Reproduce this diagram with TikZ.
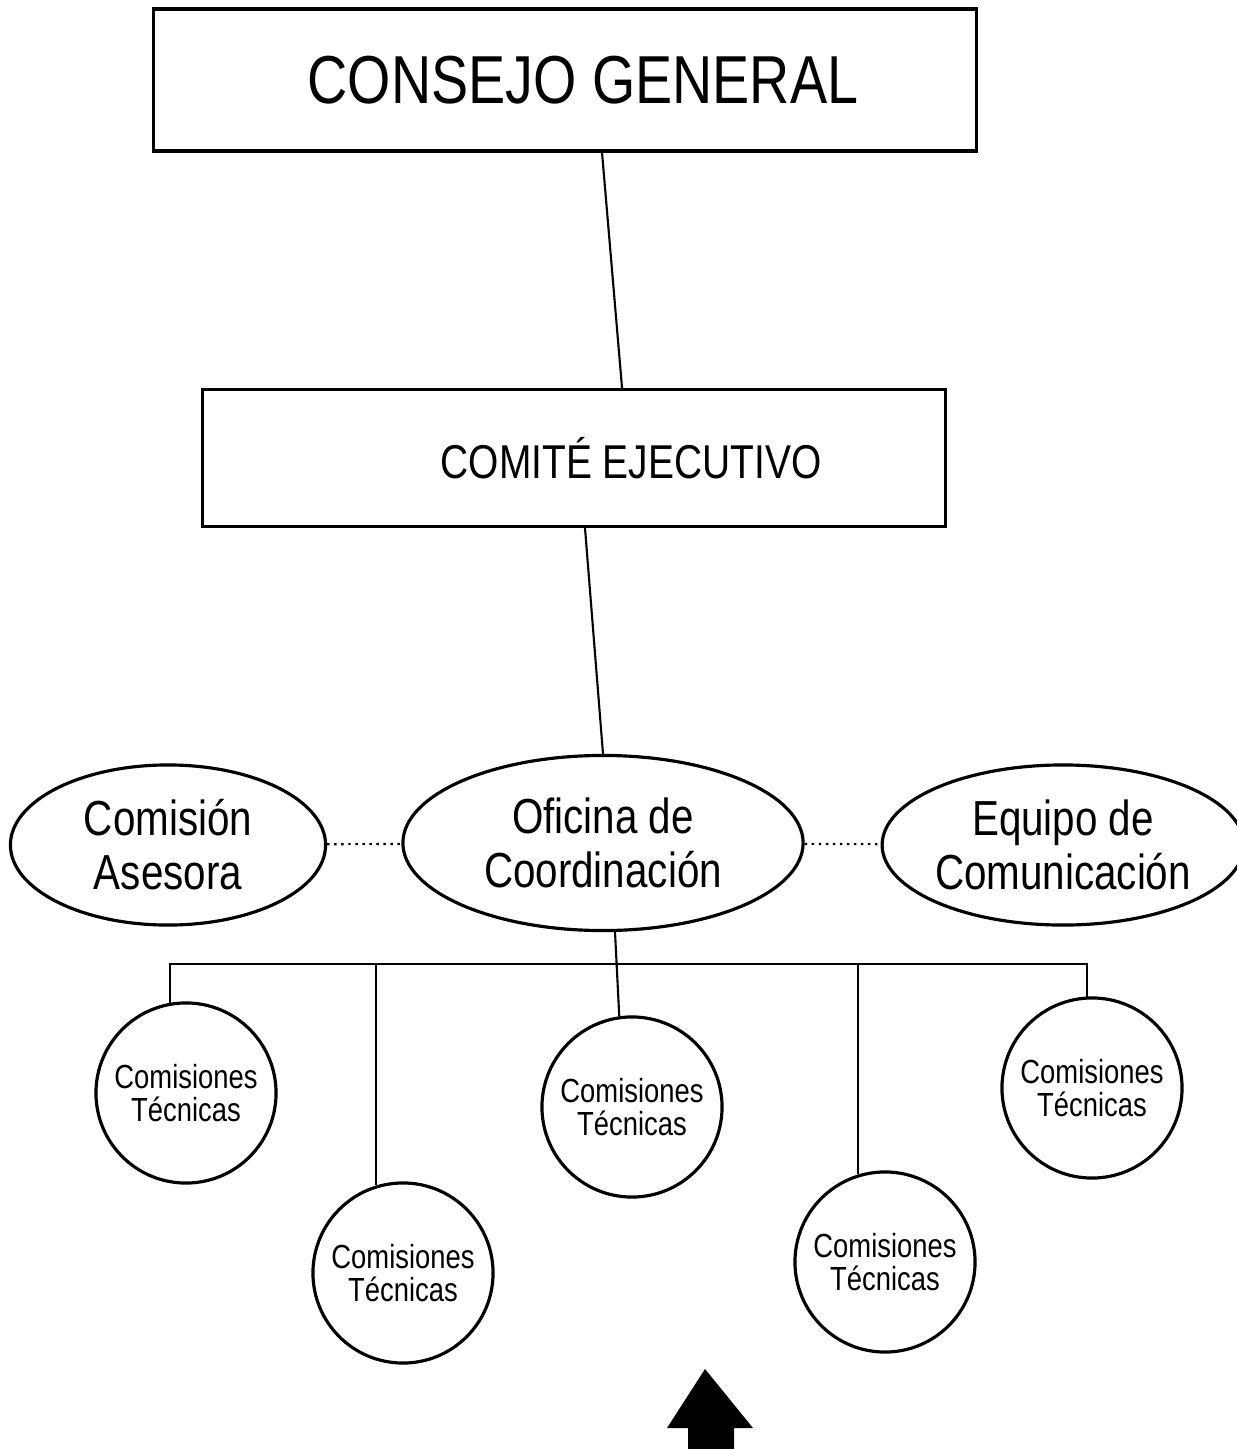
\documentclass[tikz,border=0pt]{standalone}
\usepackage{fontspec}
\setmainfont{Liberation Sans}[FakeStretch=0.82]
\usetikzlibrary{shapes.geometric}

\begin{document}
\begin{tikzpicture}[x=0.01cm,y=-0.01cm,
		caja/.style={draw,line width=0.9pt,inner sep=0pt},
		elipse/.style={draw,ellipse,line width=0.9pt,inner sep=0pt,align=center,font=\fontsize{14}{15.4}\selectfont},
		comision/.style={draw,circle,line width=0.9pt,minimum size=1.8cm,inner sep=0pt,align=center,font=\fontsize{9.5}{9.6}\selectfont},
		enlace/.style={line width=0.6pt},
		punteado/.style={line width=0.6pt,dash pattern=on 0.7pt off 1.3pt}]
		\useasboundingbox (0,0) rectangle (1236,1449);
		\node[caja,minimum width=8.23cm,minimum height=1.42cm,font=\fontsize{19.3}{20}\selectfont] (consejo) at (565,80) {\hspace*{0.36cm}CONSEJO GENERAL};
		\node[caja,minimum width=7.42cm,minimum height=1.37cm,font=\fontsize{13.5}{14}\selectfont] (comite) at (574,458) {\hspace*{1.14cm}COMITÉ EJECUTIVO};
		\node[elipse,minimum width=3.15cm,minimum height=1.6cm] (asesora) at (168,845) {Comisión\\Asesora};
		\node[elipse,minimum width=4cm,minimum height=1.75cm] (oficina) at (603,843) {Oficina de\\Coordinación};
		\node[elipse,minimum width=3.4cm,minimum height=1.6cm] (equipo) at (1063,845) {Equipo de\\Comunicación};
		\node[comision] (c1) at (186,1093) {Comisiones\\Técnicas};
		\node[comision] (c2) at (403,1273) {Comisiones\\Técnicas};
		\node[comision] (c3) at (632,1107) {Comisiones\\Técnicas};
		\node[comision] (c4) at (885,1262) {Comisiones\\Técnicas};
		\node[comision] (c5) at (1092,1088) {Comisiones\\Técnicas};
		\coordinate (barra) at (618,964);
		\draw[enlace] ([xshift=0.37cm]consejo.south) -- ([xshift=0.48cm]comite.north);
		\draw[enlace] ([xshift=0.11cm]comite.south) -- (oficina.north);
		\draw[punteado] (asesora) -- (oficina);
		\draw[punteado] (oficina) -- (equipo);
		\draw[enlace] ([xshift=0.12cm]oficina.south) -- (c3.98);
		\draw[enlace] (c1.100) -- (c1.100 |- barra) -- (c5.93 |- barra) -- (c5.93);
		\foreach \c/\a in {c2/107,c4/107}
			\draw[enlace] (\c.\a) -- (\c.\a |- barra);
		\fill (705,1369) -- (753,1428) -- (734,1428) -- (734,1449) -- (688,1449) -- (688,1428) -- (667,1428) -- cycle;
	\end{tikzpicture}
\end{document}
